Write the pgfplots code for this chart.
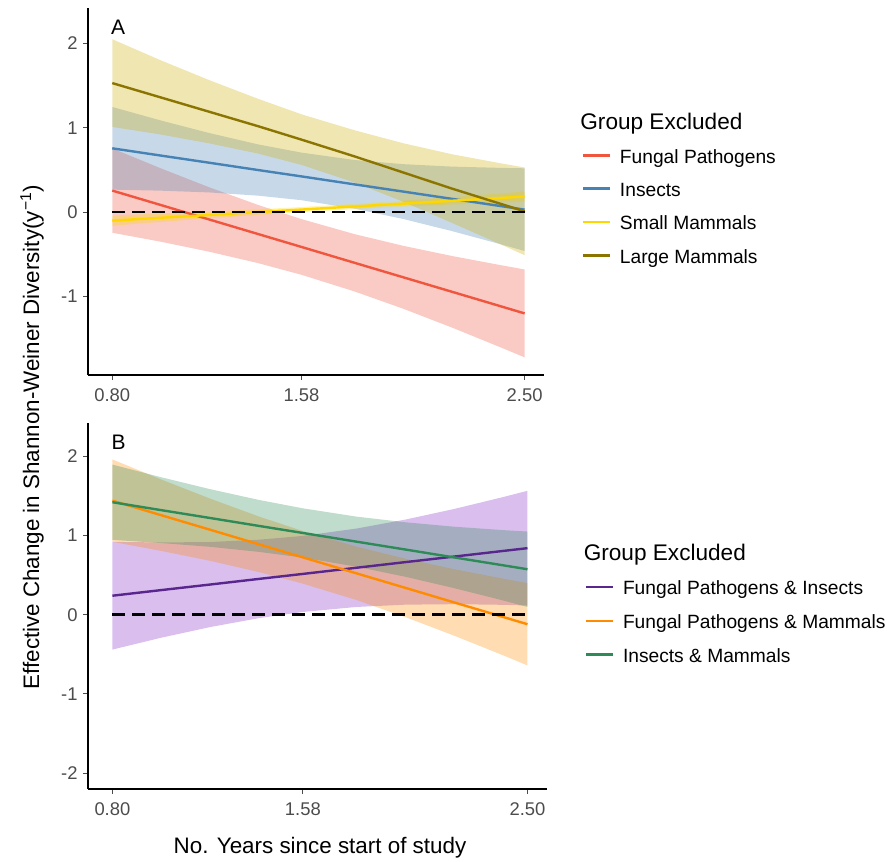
\documentclass[border=0pt]{standalone}
\usepackage{fontspec}
\setmainfont{Liberation Sans}
\usepackage{pgfplots}
\pgfplotsset{compat=1.18}

\definecolor{fpL}{RGB}{240,85,62}
\definecolor{fpF}{RGB}{240,80,60}
\definecolor{inL}{RGB}{70,130,180}
\definecolor{inF}{RGB}{70,130,180}
\definecolor{smL}{RGB}{255,215,0}
\definecolor{smF}{RGB}{255,215,0}
\definecolor{lmL}{RGB}{139,117,0}
\definecolor{lmF}{RGB}{205,172,0}
\definecolor{fpiL}{RGB}{88,38,140}
\definecolor{fpiF}{RGB}{130,40,200}
\definecolor{fpmL}{RGB}{255,140,0}
\definecolor{fpmF}{RGB}{255,140,0}
\definecolor{imL}{RGB}{46,139,87}
\definecolor{imF}{RGB}{46,139,87}

\pgfplotsset{
  panel/.style={
    scale only axis,
    xmin=0.70, xmax=2.58,
    axis x line*=bottom, axis y line*=left,
    axis line style={black, line width=0.6pt, -},
    tick style={black!70, line width=0.5pt},
    tick align=outside,
    major tick length=2.5pt,
    xtick={0.8,1.58,2.5}, xticklabels={0.80,1.58,2.50},
    xticklabel style={font=\fontsize{9.2}{10}\selectfont, text=black!70, inner sep=0pt, anchor=north, yshift=-4pt},
    yticklabel style={font=\fontsize{9.2}{10}\selectfont, text=black!70, inner sep=0pt, anchor=east, xshift=-2.5pt},
    legend cell align=left,
    legend image code/.code={\draw[#1, line width=1.2pt] (0pt,0pt) -- (13.3pt,0pt);},
    legend style={draw=none, fill=none, inner sep=0pt, outer sep=0pt, anchor=north west,
      font=\fontsize{9.6}{11}\selectfont,
      nodes={inner sep=0pt, text height=8pt, text depth=0pt},
      /tikz/every odd column/.append style={column sep=4.5pt}},
    band/.style={draw=none, fill opacity=0.3, forget plot},
    fit/.style={line width=1.2pt},
  }
}

\begin{document}
\begin{tikzpicture}
% ---------------- Panel A ----------------
\begin{axis}[panel,
  at={(44pt,-4pt)}, anchor=north west, width=228pt, height=183.5pt,
  ymin=-1.93, ymax=2.42,
  ytick={-1,0,1,2}, yticklabels={-1,0,1,2},
  legend style={at={(1.0833,0.6204)}, /tikz/row sep=8.67pt},
]
\addplot[band, fill=fpF] coordinates {(0.8,0.756)(1.0,0.52)(1.2,0.295)(1.4,0.087)(1.58,-0.082)(1.8,-0.261)(2.0,-0.399)(2.2,-0.519)(2.4,-0.627)(2.5,-0.679)
 (2.5,-1.721)(2.4,-1.601)(2.2,-1.367)(2.0,-1.145)(1.8,-0.941)(1.58,-0.742)(1.4,-0.603)(1.2,-0.469)(1.0,-0.35)(0.8,-0.244)} -- cycle;
\addplot[band, fill=inF] coordinates {(0.8,1.247)(1.0,1.087)(1.2,0.938)(1.4,0.804)(1.58,0.706)(1.8,0.618)(2.0,0.569)(2.2,0.540)(2.4,0.525)(2.5,0.52)
 (2.5,-0.46)(2.4,-0.379)(2.2,-0.224)(2.0,-0.081)(1.8,0.04)(1.58,0.142)(1.4,0.196)(1.2,0.234)(1.0,0.255)(0.8,0.267)} -- cycle;
\addplot[band, fill=smF] coordinates {(0.8,-0.04)(1.0,-0.016)(1.2,0.007)(1.4,0.034)(1.58,0.061)(1.8,0.099)(2.0,0.137)(2.2,0.179)(2.4,0.222)(2.5,0.245)
 (2.5,0.125)(2.4,0.114)(2.2,0.091)(2.0,0.065)(1.8,0.037)(1.58,0.001)(1.4,-0.032)(1.2,-0.073)(1.0,-0.116)(0.8,-0.16)} -- cycle;
\addplot[band, fill=lmF] coordinates {(0.8,2.05)(1.0,1.80)(1.2,1.565)(1.4,1.345)(1.58,1.16)(1.8,0.97)(2.0,0.817)(2.2,0.687)(2.4,0.58)(2.5,0.53)
 (2.5,-0.51)(2.4,-0.38)(2.2,-0.127)(2.0,0.123)(1.8,0.35)(1.58,0.56)(1.4,0.695)(1.2,0.815)(1.0,0.92)(0.8,1.01)} -- cycle;
\addplot[fit, color=fpL] coordinates {(0.8,0.256)(1.0,0.085)(1.2,-0.087)(1.4,-0.258)(1.58,-0.412)(1.8,-0.601)(2.0,-0.772)(2.2,-0.943)(2.4,-1.114)(2.5,-1.20)};
\addlegendentry{Fungal Pathogens}
\addplot[fit, color=inL] coordinates {(0.8,0.757)(1.0,0.671)(1.2,0.586)(1.4,0.50)(1.58,0.424)(1.8,0.329)(2.0,0.244)(2.2,0.158)(2.4,0.073)(2.5,0.03)};
\addlegendentry{Insects}
\addplot[fit, color=smL] coordinates {(0.8,-0.10)(1.0,-0.066)(1.2,-0.033)(1.4,0.001)(1.58,0.031)(1.8,0.068)(2.0,0.101)(2.2,0.135)(2.4,0.168)(2.5,0.185)};
\addlegendentry{Small Mammals}
\addplot[fit, color=lmL] coordinates {(0.8,1.53)(1.0,1.36)(1.2,1.19)(1.4,1.02)(1.58,0.86)(1.8,0.66)(2.0,0.47)(2.2,0.28)(2.4,0.10)(2.5,0.01)};
\addlegendentry{Large Mammals}
\addplot[black, line width=1.3pt, dash pattern=on 6.5pt off 3.5pt, forget plot] coordinates {(0.8,0)(2.5,0)};
\node[anchor=base west, inner sep=0pt, font=\fontsize{10.5}{12}\selectfont] at (axis cs:0.794,2.108) {A};
\end{axis}

% ---------------- Panel B ----------------
\begin{axis}[panel,
  at={(44pt,-211.5pt)}, anchor=north west, width=229.5pt, height=183pt,
  ymin=-2.2, ymax=2.42,
  ytick={-2,-1,0,1,2}, yticklabels={-2,-1,0,1,2},
  legend style={at={(1.0828,0.5738)}, /tikz/row sep=8.9pt},
]
\addplot[band, fill=fpiF] coordinates {(0.8,0.92)(1.0,0.912)(1.2,0.918)(1.4,0.947)(1.58,0.995)(1.8,1.088)(2.0,1.201)(2.2,1.335)(2.4,1.485)(2.5,1.564)
 (2.5,0.116)(2.4,0.125)(2.2,0.133)(2.0,0.127)(1.8,0.098)(1.58,0.035)(1.4,-0.043)(1.2,-0.156)(1.0,-0.29)(0.8,-0.44)} -- cycle;
\addplot[band, fill=fpmF] coordinates {(0.8,1.96)(1.0,1.707)(1.2,1.466)(1.4,1.24)(1.58,1.056)(1.8,0.859)(2.0,0.708)(2.2,0.575)(2.4,0.456)(2.5,0.40)
 (2.5,-0.64)(2.4,-0.512)(2.2,-0.265)(2.0,-0.03)(1.8,0.185)(1.58,0.392)(1.4,0.538)(1.2,0.68)(1.0,0.805)(0.8,0.92)} -- cycle;
\addplot[band, fill=imF] coordinates {(0.8,1.895)(1.0,1.735)(1.2,1.585)(1.4,1.449)(1.58,1.343)(1.8,1.238)(2.0,1.167)(2.2,1.111)(2.4,1.068)(2.5,1.05)
 (2.5,0.098)(2.4,0.18)(2.2,0.335)(2.0,0.479)(1.8,0.606)(1.58,0.721)(1.4,0.793)(1.2,0.857)(1.0,0.905)(0.8,0.945)} -- cycle;
\addplot[fit, color=fpiL] coordinates {(0.8,0.24)(1.0,0.311)(1.2,0.381)(1.4,0.452)(1.58,0.515)(1.8,0.593)(2.0,0.664)(2.2,0.734)(2.4,0.805)(2.5,0.84)};
\addlegendentry{Fungal Pathogens \& Insects}
\addplot[fit, color=fpmL] coordinates {(0.8,1.44)(1.0,1.256)(1.2,1.073)(1.4,0.889)(1.58,0.724)(1.8,0.522)(2.0,0.339)(2.2,0.155)(2.4,-0.028)(2.5,-0.12)};
\addlegendentry{Fungal Pathogens \& Mammals}
\addplot[fit, color=imL] coordinates {(0.8,1.42)(1.0,1.32)(1.2,1.221)(1.4,1.121)(1.58,1.032)(1.8,0.922)(2.0,0.823)(2.2,0.723)(2.4,0.624)(2.5,0.574)};
\addlegendentry{Insects \& Mammals}
\addplot[black, line width=1.3pt, dash pattern=on 6.5pt off 3.5pt, forget plot] coordinates {(0.8,0)(2.5,0)};
\node[anchor=base west, inner sep=0pt, font=\fontsize{10.5}{12}\selectfont] at (axis cs:0.795,2.088) {B};
\end{axis}

% titles
\node[anchor=base west, inner sep=0pt, font=\fontsize{11.3}{13}\selectfont] at (290pt,-64.65pt) {Group Excluded};
\node[anchor=base west, inner sep=0pt, font=\fontsize{11.3}{13}\selectfont] at (291.7pt,-280pt) {Group Excluded};
\node[anchor=base, inner sep=0pt, font=\fontsize{11.2}{13}\selectfont] at (160pt,-426.5pt) {No. Years since start of study};
\node[rotate=90, anchor=center, inner sep=0pt, font=\fontsize{11.2}{13}\selectfont] at (16pt,-218.5pt) {Effective Change in Shannon-Weiner Diversity(y\textsuperscript{−1})};

\pgfresetboundingbox
\path (0,0) rectangle (443.5pt,-430.5pt);
\end{tikzpicture}
\end{document}
